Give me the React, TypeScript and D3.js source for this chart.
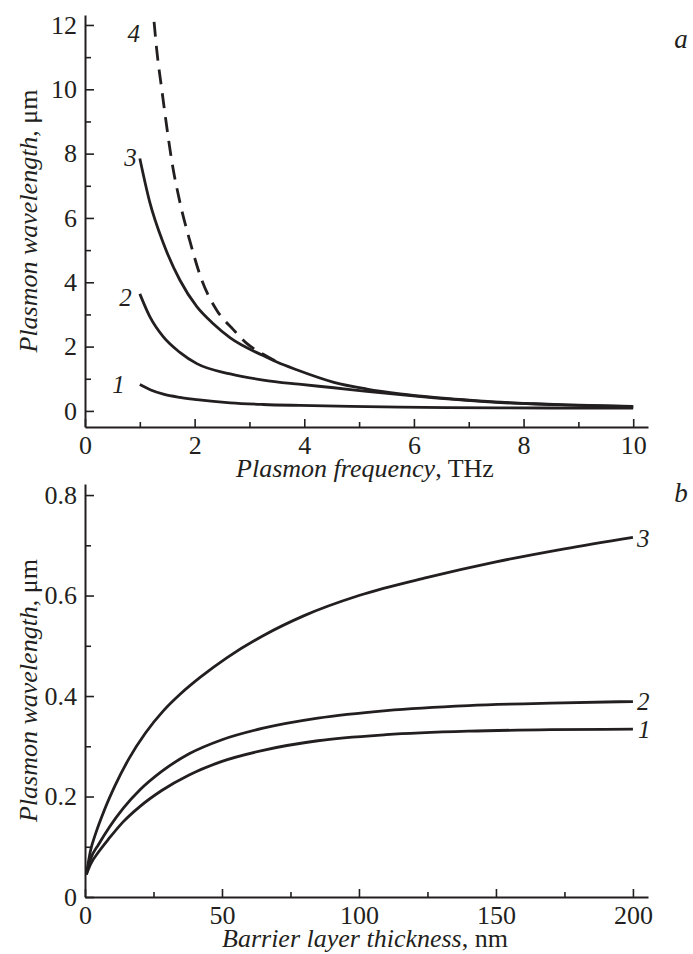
import { useEffect, useRef } from "react";
import * as d3 from "d3";

const width = 693;
const height = 954;

// panel a: plasmon wavelength (um) vs plasmon frequency (THz)
const freq1 = [1, 1.2, 1.43, 1.73, 2.04, 2.65, 3.25, 3.92, 4.84, 5.75, 6.6, 7.58, 8.5, 9.4, 10];
const wave1 = [0.82, 0.65, 0.52, 0.42, 0.35, 0.25, 0.2, 0.17, 0.14, 0.12, 0.105, 0.095, 0.09, 0.085, 0.085];

const freq2 = [1, 1.18, 1.43, 1.73, 2.04, 2.65, 3.25, 3.9, 4.54, 5.14, 5.75, 6.37, 6.97, 7.58, 8.19, 8.8, 10];
const wave2 = [3.64, 2.94, 2.3, 1.82, 1.47, 1.15, 0.96, 0.83, 0.72, 0.61, 0.505, 0.405, 0.325, 0.26, 0.215, 0.18, 0.13];

const freq3 = [1, 1.18, 1.43, 1.73, 2.04, 2.34, 2.65, 3.25, 3.5, 3.86, 4.54, 5.14, 5.75, 6.37, 6.97, 7.58, 8.19, 8.8, 10];
const wave3 = [7.85, 6.5, 5.21, 4.07, 3.24, 2.71, 2.27, 1.72, 1.52, 1.28, 0.89, 0.68, 0.53, 0.42, 0.34, 0.27, 0.225, 0.19, 0.14];

const freq4 = [1.26, 1.31, 1.4, 1.49, 1.58, 1.73, 1.91, 2.13, 2.4, 2.71, 2.95, 3.25, 3.5];
const wave4 = [12.1, 11.2, 10.0, 8.85, 7.8, 6.5, 5.3, 4.07, 3.14, 2.52, 2.1, 1.76, 1.53];

// panel b: plasmon wavelength (um) vs barrier layer thickness (nm)
const thick1 = [0.5, 2, 5, 9, 14, 20, 28, 38, 50, 65, 85, 110, 140, 170, 200];
const waveB1 = [0.045, 0.065, 0.09, 0.118, 0.15, 0.18, 0.212, 0.243, 0.27, 0.292, 0.311, 0.323, 0.33, 0.333, 0.334];

const thick2 = [0.5, 2, 5, 9, 14, 20, 28, 38, 50, 65, 85, 110, 140, 170, 200];
const waveB2 = [0.045, 0.075, 0.105, 0.14, 0.177, 0.213, 0.25, 0.285, 0.313, 0.336, 0.356, 0.371, 0.381, 0.386, 0.389];

const thick3 = [0.5, 2, 4, 7, 11, 16, 22, 28.5, 35, 42, 52, 65, 80, 100, 125, 150, 175, 200];
const waveB3 = [0.045, 0.092, 0.128, 0.172, 0.222, 0.275, 0.326, 0.37, 0.405, 0.437, 0.477, 0.52, 0.56, 0.6, 0.636, 0.667, 0.693, 0.716];

const freqMajor = [0, 2, 4, 6, 8, 10];
const freqMinor = [1, 3, 5, 7, 9];
const waveMajor = [0, 2, 4, 6, 8, 10, 12];
const waveMinor = [1, 3, 5, 7, 9, 11];
const thickMajor = [0, 50, 100, 150, 200];
const thickMinor = [25, 75, 125, 175];
const waveBMajor = [0, 0.2, 0.4, 0.6, 0.8];
const waveBMinor = [0.1, 0.3, 0.5, 0.7];

const ink = "#231f20";
const serif = "'Liberation Serif', 'Times New Roman', serif";
const left = 85;
const right = 648;

const makePanel = (svg, cfg) => {
  const x = d3.scaleLinear().domain(cfg.xDomain).range([left, right]);
  const y = d3.scaleLinear().domain(cfg.yDomain).range([cfg.bottom, cfg.top]);
  const g = svg.append("g");

  const styleAxis = (ax) => {
    ax.attr("font-family", serif).attr("font-size", 26);
    ax.selectAll("path").attr("stroke", ink).attr("stroke-width", 2);
    ax.selectAll("line").attr("stroke", ink).attr("stroke-width", 1.6);
    ax.selectAll("text").attr("fill", ink);
  };

  g.append("g")
    .attr("transform", `translate(0,${cfg.bottom})`)
    .call(d3.axisBottom(x).tickValues(cfg.xMinor).tickSize(-5).tickSizeOuter(0).tickFormat(() => ""))
    .call(styleAxis)
    .call((a) => a.select(".domain").remove());
  g.append("g")
    .attr("transform", `translate(${left},0)`)
    .call(d3.axisLeft(y).tickValues(cfg.yMinor).tickSize(-6).tickSizeOuter(0).tickFormat(() => ""))
    .call(styleAxis)
    .call((a) => a.select(".domain").remove());
  g.append("g")
    .attr("transform", `translate(0,${cfg.bottom})`)
    .call(d3.axisBottom(x).tickValues(cfg.xMajor).tickSize(-8).tickSizeOuter(0).tickPadding(9).tickFormat(d3.format("")))
    .call(styleAxis);
  g.append("g")
    .attr("transform", `translate(${left},0)`)
    .call(d3.axisLeft(y).tickValues(cfg.yMajor).tickSize(-9).tickSizeOuter(0).tickPadding(8).tickFormat(d3.format("")))
    .call(styleAxis);

  const line = d3
    .line()
    .x((d) => x(d[0]))
    .y((d) => y(d[1]))
    .curve(d3.curveMonotoneX);

  cfg.series.forEach((s) => {
    const pts = d3.zip(s.xs, s.ys);
    g.append("path")
      .attr("d", line(pts))
      .attr("fill", "none")
      .attr("stroke", ink)
      .attr("stroke-width", 2.8)
      .attr("stroke-dasharray", s.dashed ? "15,9" : null);
    const anchor = s.labelAtEnd ? pts[pts.length - 1] : pts[0];
    g.append("text")
      .attr("x", x(anchor[0]) + s.dx)
      .attr("y", y(anchor[1]) + s.dy)
      .attr("text-anchor", s.labelAtEnd ? "start" : "end")
      .attr("font-family", serif)
      .attr("font-style", "italic")
      .attr("font-size", 25)
      .attr("fill", ink)
      .text(s.label);
  });

  // axis titles
  const yt = g
    .append("text")
    .attr("transform", `translate(37,${(cfg.top + cfg.bottom) / 2}) rotate(-90)`)
    .attr("text-anchor", "middle")
    .attr("font-family", serif)
    .attr("font-size", 26)
    .attr("fill", ink);
  yt.append("tspan").attr("font-style", "italic").text("Plasmon wavelength");
  yt.append("tspan").text(", μm");

  const xt = g
    .append("text")
    .attr("x", 365)
    .attr("y", cfg.bottom + 50)
    .attr("text-anchor", "middle")
    .attr("font-family", serif)
    .attr("font-size", 26)
    .attr("fill", ink);
  xt.append("tspan").attr("font-style", "italic").text(cfg.xTitle);
  xt.append("tspan").text(cfg.xUnit);

  g.append("text")
    .attr("x", 681)
    .attr("y", cfg.letterY)
    .attr("text-anchor", "middle")
    .attr("font-family", serif)
    .attr("font-style", "italic")
    .attr("font-size", 27)
    .attr("fill", ink)
    .text(cfg.letter);
};

const App = () => {
  const ref = useRef(null);

  useEffect(() => {
    const svg = d3.select(ref.current);
    svg.selectAll("*").remove();

    makePanel(svg, {
      top: 15,
      bottom: 427,
      xDomain: [0, 10.27],
      yDomain: [-0.5, 12.31],
      xMajor: freqMajor,
      xMinor: freqMinor,
      yMajor: waveMajor,
      yMinor: waveMinor,
      xTitle: "Plasmon frequency",
      xUnit: ", THz",
      letter: "a",
      letterY: 48,
      series: [
        { xs: freq1, ys: wave1, label: "1", dx: -15, dy: 8 },
        { xs: freq2, ys: wave2, label: "2", dx: -8, dy: 12 },
        { xs: freq3, ys: wave3, label: "3", dx: -3, dy: 8 },
        { xs: freq4, ys: wave4, label: "4", dx: -14, dy: 20, dashed: true },
      ],
    });

    makePanel(svg, {
      top: 484,
      bottom: 897,
      xDomain: [0, 205.5],
      yDomain: [0, 0.822],
      xMajor: thickMajor,
      xMinor: thickMinor,
      yMajor: waveBMajor,
      yMinor: waveBMinor,
      xTitle: "Barrier layer thickness",
      xUnit: ", nm",
      letter: "b",
      letterY: 502,
      series: [
        { xs: thick1, ys: waveB1, label: "1", dx: 5, dy: 9, labelAtEnd: true },
        { xs: thick2, ys: waveB2, label: "2", dx: 4, dy: 8, labelAtEnd: true },
        { xs: thick3, ys: waveB3, label: "3", dx: 4, dy: 10, labelAtEnd: true },
      ],
    });
  }, []);

  return (
    <svg
      ref={ref}
      width={width}
      height={height}
      style={{ position: "absolute", left: 0, top: 0, background: "#fff" }}
    />
  );
};

export default App;
